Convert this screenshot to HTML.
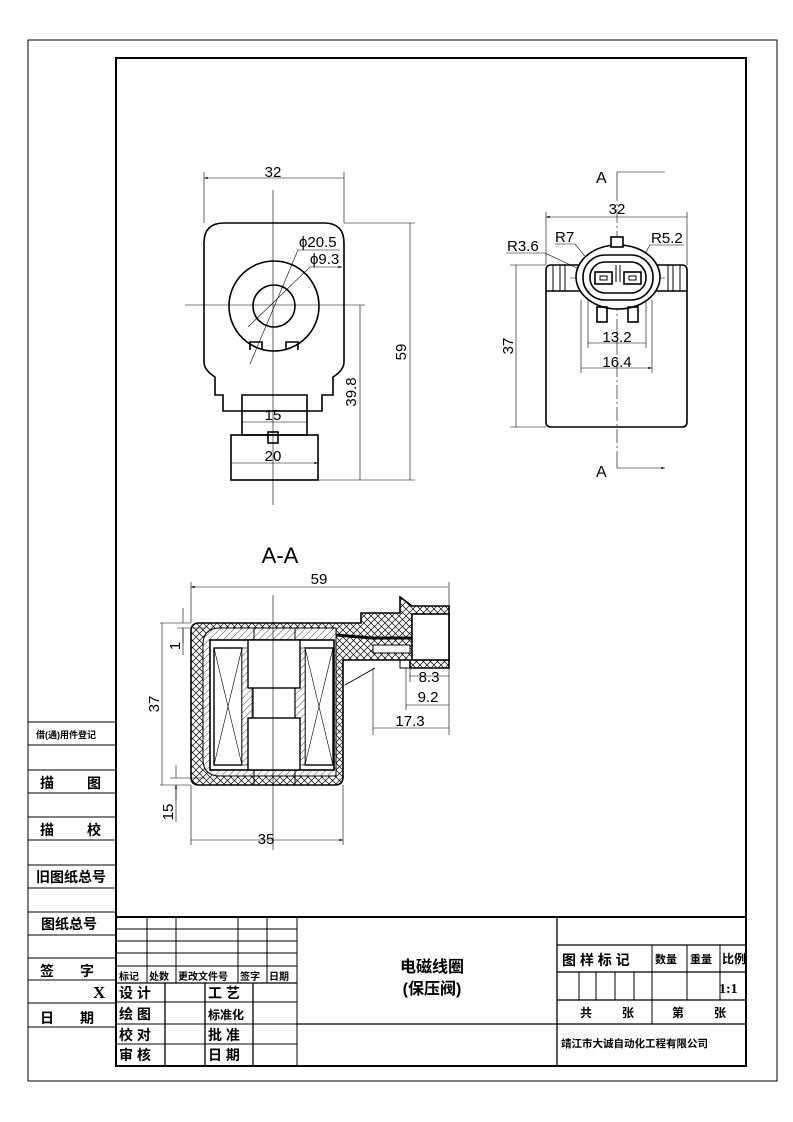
<!DOCTYPE html>
<html><head><meta charset="utf-8"><style>
html,body{margin:0;padding:0;background:#fff}
svg{display:block}
.t{font-family:"Liberation Sans","Noto Sans CJK SC",sans-serif}
.d{font-family:"Liberation Sans",sans-serif;font-size:15px;fill:#000}
.c{font-family:"Liberation Sans","Noto Sans CJK SC",sans-serif;font-weight:bold;fill:#000}
</style></head><body>
<svg width="793" height="1122" viewBox="0 0 793 1122" xmlns="http://www.w3.org/2000/svg">
<defs>
<marker id="a" viewBox="0 0 10 10" refX="10" refY="5" markerWidth="8" markerHeight="6" orient="auto-start-reverse"><path d="M0,2 L10,5 L0,8z" fill="#000"/></marker>
<pattern id="x" width="7" height="7" patternUnits="userSpaceOnUse"><rect width="7" height="7" fill="#fff"/><path d="M0,0L7,7M7,0L0,7" stroke="#000" stroke-width="0.7"/></pattern>
<pattern id="h" width="5" height="5" patternUnits="userSpaceOnUse" patternTransform="rotate(45)"><rect width="5" height="5" fill="#fff"/><path d="M0,0V5" stroke="#000" stroke-width="0.7"/></pattern>
</defs>
<g fill="none" stroke="#000">
<rect x="28" y="40" width="749" height="1041" stroke-width="1"/>
<rect x="116" y="58" width="630" height="1008" stroke-width="2"/>
<!-- left column -->
<path d="M28,722H116M28,745H116M28,770H116M28,793H116M28,817H116M28,840H116M28,865H116M28,888H116M28,912H116M28,935H116M28,958H116M28,980H116M28,1003H116M28,1027H116" stroke-width="1"/>
<!-- title block -->
<path d="M116,917H746" stroke-width="2"/>
<path d="M116,929H297M116,941H297M116,953H297M116,966H297M116,983H297M116,1002H297M116,1024H297M116,1044H297" stroke-width="1"/>
<path d="M147,917V983M176,917V983M238,917V983M267,917V983M297,917V1066" stroke-width="1"/>
<path d="M116,983H297M165,983V1066M205,983V1066M253,983V1066" stroke-width="1.3"/>
<path d="M557,917V1066M297,1024H746M557,945H746M557,972H746M557,1000H746" stroke-width="1.3"/>
<path d="M652,945V1000M687,945V1000M720,945V1000M579,972V1000M596,972V1000M615,972V1000M634,972V1000M652,1000V1024" stroke-width="1"/>

<!-- FRONT VIEW -->
<g stroke-width="0.6">
<path d="M273,190V505M185,305H360"/>
<path d="M204,223V172M344,223V172M344,223H415M318,480H415M360,305H365"/>
<path d="M204,178H344M410,223V480M360,305V480M242,422H307M231,463H318" marker-start="url(#a)" marker-end="url(#a)"/>
<path d="M250,364L298,250H340M248,327L310,267H342" marker-end="url(#a)"/>
</g>
<g stroke-width="1.6">
<path d="M224,223H324Q344,223 344,243V362Q344,370 333,377V395H322V411H307V395H242V411H223V395H215V377Q204,370 204,362V243Q204,223 224,223Z"/>
<circle cx="274" cy="306" r="45"/><circle cx="274" cy="306" r="21"/>
<path d="M250,350V342H262V350M286,350V342H298V350"/>
<rect x="242" y="411" width="65" height="24"/>
<rect x="231" y="435" width="87" height="45"/>
<rect x="268" y="432" width="10" height="11"/>
</g>
<!-- RIGHT VIEW -->
<g stroke-width="0.6">
<path d="M617,187V172H665M617,455V468H665" marker-end="url(#a)"/>
<path d="M617,187V455" stroke-dasharray="14 3 2 3"/>
<path d="M546,265V212M687,265V212M546,265H510M546,427H510M588,290V348M646,290V348M581,300V373M652,300V373M570,278H665"/>
<path d="M546,217H687M516,265V427M588,343H646M581,368H652" marker-start="url(#a)" marker-end="url(#a)"/>
<path d="M506,253H545L598,278M555,244H575L600,275M684,245H650L632,276"/>
</g>
<g stroke-width="1.6">
<path d="M551,265H682Q687,265 687,270V422Q687,427 682,427H551Q546,427 546,422V270Q546,265 551,265ZM546,291H687"/>
<path d="M553,265V291M560,265V291M565,265V291M668,265V291M673,265V291M680,265V291" stroke-width="1"/>
<ellipse cx="618" cy="277" rx="42" ry="32" fill="#fff"/>
<rect x="583" y="255" width="70" height="45" rx="22"/>
<rect x="590" y="262" width="56" height="31" rx="15"/>
<rect x="611" y="237" width="12" height="10" fill="#fff"/>
<rect x="597" y="307" width="10" height="15"/><rect x="628" y="307" width="10" height="15"/>
<rect x="595" y="272" width="17" height="12"/><rect x="624" y="272" width="17" height="12"/>
<rect x="600" y="276" width="7" height="4" stroke-width="1"/><rect x="629" y="276" width="7" height="4" stroke-width="1"/>
<path d="M616,265V282M620,265V282" stroke-width="1"/>
</g>
<!-- SECTION A-A -->
<path d="M199,623H361V613H400V597L412,606H449V668H410V660H343V777Q343,785 335,785H199Q191,785 191,777V631Q191,623 199,623Z" fill="url(#x)" stroke-width="1.6"/>
<path d="M220,628H336V776H220Q203,776 203,759V645Q203,628 220,628Z" fill="url(#h)" stroke-width="1"/>
<rect x="210" y="640" width="124" height="130" fill="#fff" stroke-width="1.6"/>
<rect x="214" y="648" width="28" height="117" stroke-width="1.4"/><path d="M214,648L242,765M242,648L214,765" stroke-width="0.6"/>
<rect x="305" y="648" width="28" height="117" stroke-width="1.4"/><path d="M305,648L333,765M333,648L305,765" stroke-width="0.6"/>
<rect x="242" y="648" width="10" height="117" fill="url(#h)" stroke-width="0.6"/>
<rect x="295" y="648" width="10" height="117" fill="url(#h)" stroke-width="0.6"/>
<rect x="248" y="640" width="52" height="48" fill="#fff" stroke-width="1.4"/>
<rect x="248" y="718" width="52" height="52" fill="#fff" stroke-width="1.4"/>
<path d="M253,688V718M295,688V718" stroke-width="1.2"/>
<path d="M254,628V640M295,628V640M254,770V785M295,770V785" stroke-width="1"/>
<rect x="412" y="614" width="37" height="46" fill="#fff" stroke-width="1.6"/>
<rect x="373" y="645" width="37" height="8" fill="#fff" stroke-width="1"/>
<path d="M336,635L372,638L412,638" stroke-width="3"/>
<path d="M343,660H400V668H410" stroke-width="1"/>
<path d="M345,685L375,668" stroke-width="1"/>
<g stroke-width="0.6">
<path d="M273,595V850M191,623V582M449,606V582M191,785V845M343,785V845M160,623H191M160,785H191M177,628H205M170,778H205M373,668V735M406,668V710M410,668V682M449,668V735"/>
<path d="M191,587H448M162,623V785M409,676H449M406,705H449M373,728H449M191,840H343" marker-start="url(#a)" marker-end="url(#a)"/>
<path d="M183,608V623M183,643V628M176,765V778M176,800V785" marker-end="url(#a)"/>
<path d="M183,628V655M176,785V822"/>
</g>
</g>
<!-- dimension text -->
<g class="d">
<text x="273" y="177" text-anchor="middle">32</text>
<text x="299" y="247">ϕ20.5</text><text x="310" y="264">ϕ9.3</text>
<text x="273" y="420" text-anchor="middle">15</text>
<text x="273" y="461" text-anchor="middle">20</text>
<text transform="translate(406,352) rotate(-90)" text-anchor="middle">59</text>
<text transform="translate(356,392) rotate(-90)" text-anchor="middle">39.8</text>
<text x="617" y="214" text-anchor="middle">32</text>
<text x="507" y="251">R3.6</text><text x="555" y="242">R7</text><text x="651" y="243">R5.2</text>
<text x="617" y="342" text-anchor="middle">13.2</text>
<text x="617" y="367" text-anchor="middle">16.4</text>
<text transform="translate(513,346) rotate(-90)" text-anchor="middle">37</text>
<text x="596" y="183" font-size="16">A</text><text x="596" y="477" font-size="16">A</text>
<text x="280" y="563" text-anchor="middle" font-size="22">A-A</text>
<text x="319" y="584" text-anchor="middle">59</text>
<text x="429" y="682" text-anchor="middle">8.3</text>
<text x="428" y="702" text-anchor="middle">9.2</text>
<text x="410" y="726" text-anchor="middle">17.3</text>
<text transform="translate(159,704) rotate(-90)" text-anchor="middle">37</text>
<text transform="translate(180,646) rotate(-90)" text-anchor="middle">1</text>
<text transform="translate(173,812) rotate(-90)" text-anchor="middle">15</text>
<text x="266" y="844" text-anchor="middle">35</text>
</g>
<!-- Chinese labels -->
<g class="c">
<text x="36" y="738" font-size="9">借(通)用件登记</text>
<text x="40" y="788" font-size="14">描</text><text x="87" y="788" font-size="14">图</text>
<text x="40" y="835" font-size="14">描</text><text x="87" y="835" font-size="14">校</text>
<text x="36" y="882" font-size="14">旧图纸总号</text>
<text x="41" y="929" font-size="14">图纸总号</text>
<text x="40" y="976" font-size="14">签</text><text x="80" y="976" font-size="14">字</text>
<text x="93" y="998" font-size="17" font-family="Liberation Serif">X</text>
<text x="40" y="1023" font-size="14">日</text><text x="80" y="1023" font-size="14">期</text>
<text x="119" y="980" font-size="10">标记</text><text x="149" y="980" font-size="10">处数</text>
<text x="178" y="980" font-size="10">更改文件号</text><text x="240" y="980" font-size="10">签字</text><text x="269" y="980" font-size="10">日期</text>
<text x="119" y="998" font-size="14">设 计</text><text x="208" y="998" font-size="14">工 艺</text>
<text x="119" y="1019" font-size="14">绘 图</text><text x="208" y="1019" font-size="12">标准化</text>
<text x="119" y="1040" font-size="14">校 对</text><text x="208" y="1040" font-size="14">批 准</text>
<text x="119" y="1060" font-size="14">审 核</text><text x="208" y="1060" font-size="14">日 期</text>
<text x="432" y="972" font-size="16" text-anchor="middle">电磁线圈</text>
<text x="432" y="994" font-size="16" text-anchor="middle">(保压阀)</text>
<text x="562" y="965" font-size="14">图 样 标 记</text>
<text x="655" y="963" font-size="11">数量</text><text x="690" y="963" font-size="11">重量</text><text x="722" y="963" font-size="12">比例</text>
<text x="719" y="993" font-size="14" font-family="Liberation Serif">1:1</text>
<text x="580" y="1017" font-size="12">共</text><text x="622" y="1017" font-size="12">张</text>
<text x="672" y="1017" font-size="12">第</text><text x="714" y="1017" font-size="12">张</text>
<text x="561" y="1047" font-size="10.5">靖江市大诚自动化工程有限公司</text>
</g>
</svg>
</body></html>
